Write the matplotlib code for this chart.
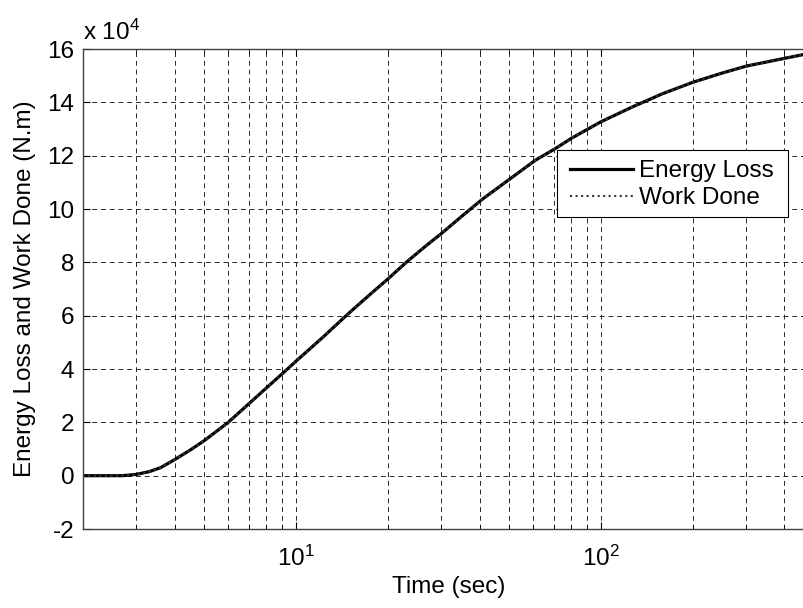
import matplotlib
matplotlib.use("Agg")
import matplotlib.pyplot as plt
from matplotlib.patches import Rectangle
from matplotlib.ticker import FixedLocator, FuncFormatter, NullFormatter, LogLocator

plt.rcParams['font.family'] = ['Liberation Sans', 'DejaVu Sans']
plt.rcParams['mathtext.fontset'] = 'custom'
plt.rcParams['mathtext.rm'] = 'Liberation Sans'
plt.rcParams['mathtext.it'] = 'Liberation Sans'
plt.rcParams['mathtext.default'] = 'regular'

# time history (sec) and energy values (N.m)
time_sec = [2.0, 2.7, 3.0, 3.3, 3.6, 4.0, 4.5, 5.0, 6.0, 7.4, 9.3, 10.0,
            12.2, 15.0, 17.8, 20.0, 23.0, 26.7, 30.0, 35.0, 41.0, 49.0,
            61.0, 71.0, 80.0, 100.0, 127.0, 159.0, 200.0, 250.0, 300.0,
            400.0, 470.0]
energy_loss = [0, 0, 500, 1500, 3000, 6000, 9600, 13100, 20000, 29400,
               39600, 42900, 51700, 61200, 68700, 73700, 80000, 86200,
               90800, 97300, 103800, 110300, 118300, 122700, 126500,
               132700, 138300, 143200, 147500, 151000, 153600, 156500,
               158100]
work_done = [0, 0, 500, 1500, 3000, 6000, 9600, 13100, 20000, 29400,
             39600, 42900, 51700, 61200, 68700, 73700, 80000, 86200,
             90800, 97300, 103800, 110300, 118300, 122700, 126500,
             132700, 138300, 143200, 147500, 151000, 153600, 156500,
             158100]

y_ticks = [-20000, 0, 20000, 40000, 60000, 80000, 100000, 120000, 140000, 160000]
FS = 17.5

fig = plt.figure(figsize=(8.04, 6.08), dpi=100)
ax = fig.add_axes([0.1029, 0.1299, 0.9096, 0.7895])

ax.plot(time_sec, energy_loss, color='black', lw=2.3, label='Energy Loss')
ax.plot(time_sec, work_done, color='#383838', lw=1.5, linestyle=':',
        label='Work Done')

ax.set_xscale('log')
ax.set_xlim(2, 500)
ax.set_ylim(-20000, 160000)
ax.yaxis.set_major_locator(FixedLocator(y_ticks))
ax.yaxis.set_major_formatter(FuncFormatter(lambda v, p: f"{v / 1e4:g}"))
ax.xaxis.set_major_locator(LogLocator(base=10, numticks=10))
ax.xaxis.set_minor_locator(LogLocator(base=10, subs=range(2, 10), numticks=20))
ax.xaxis.set_minor_formatter(NullFormatter())

grid_kw = dict(color='#282828', lw=0.7, dashes=(5, 4))
ax.grid(True, which='major', axis='both', **grid_kw)
ax.grid(True, which='minor', axis='x', **grid_kw)

ax.tick_params(which='both', direction='in', top=True, labelsize=FS,
               colors='black')
ax.tick_params(axis='y', pad=6, length=5)
ax.tick_params(axis='x', which='major', pad=12, length=5)
ax.tick_params(axis='x', which='minor', length=3)
for s in ax.spines.values():
    s.set_color('#404040')
    s.set_linewidth(1.0)

ax.set_xlabel('Time (sec)', fontsize=FS, labelpad=4)
ax.set_ylabel('Energy Loss and Work Done (N.m)', fontsize=FS, labelpad=8)
ax.text(0.0, 1.008, r'x 10$^{4}$', transform=ax.transAxes, fontsize=FS,
        ha='left', va='bottom')

# legend box drawn separately so side padding can differ from top/bottom
box = Rectangle((0.6486, 0.65), 0.3159, 0.1396, transform=ax.transAxes,
                facecolor='white', edgecolor='black', lw=0.8, zorder=4.5,
                clip_on=False)
ax.add_patch(box)
leg = ax.legend(loc='upper left', bbox_to_anchor=(0.6663, 0.768),
                borderaxespad=0, borderpad=0, fontsize=FS, handlelength=2.6,
                handletextpad=0.22, labelspacing=0.2, frameon=False)
leg.set_zorder(5)

fig.savefig('out.png', dpi=100)
